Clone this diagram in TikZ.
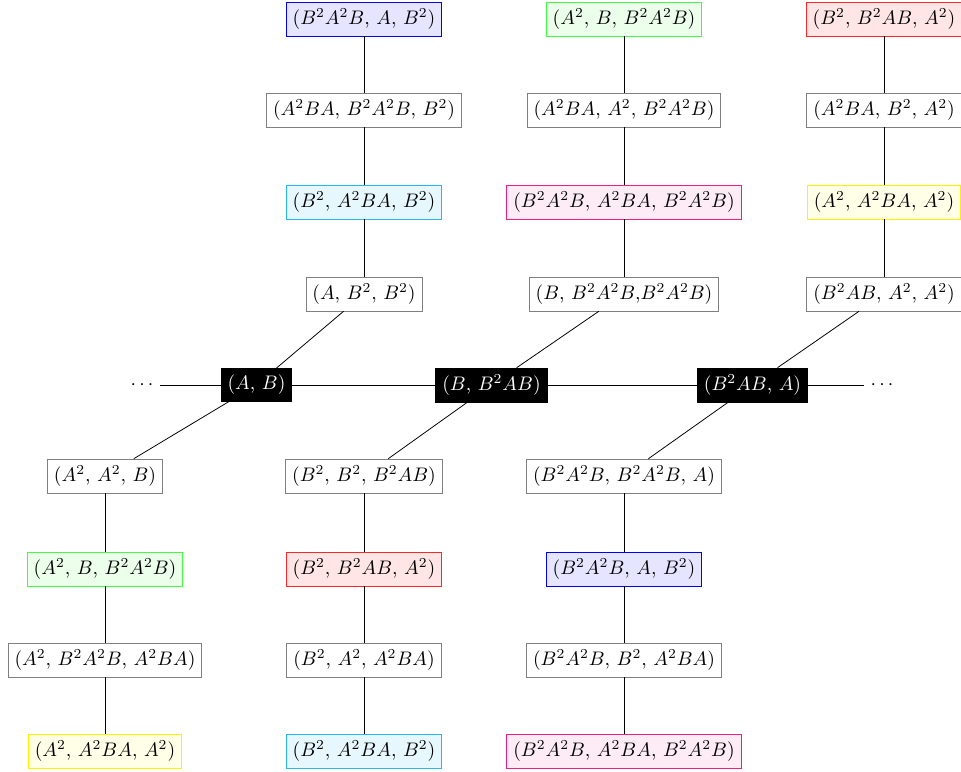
\documentclass[tikz,border=0pt]{standalone}
\begin{document}
\begin{tikzpicture}[x=0.51pt,y=-0.51pt,
  plain/.style={draw=gray,fill=white,inner sep=3.3pt},
  spine/.style={draw=black,fill=black,text=white,inner sep=3.3pt},
  cblue/.style={draw=blue,fill=blue!10,inner sep=3.3pt},
  cgreen/.style={draw=green!75,fill=green!8,inner sep=3.3pt},
  cred/.style={draw=red!85,fill=red!10,inner sep=3.3pt},
  ccyan/.style={draw=cyan!85,fill=cyan!10,inner sep=3.3pt},
  cmag/.style={draw=magenta!75!red!90,fill=magenta!8,inner sep=3.3pt},
  cyel/.style={draw=yellow,fill=yellow!10,inner sep=3.3pt},
  link/.style={draw=black,line width=0.4pt}]
\useasboundingbox (0,0) rectangle (961,772);
% spine
\node[spine] (s1) at (256.5,385) {$(A$, $B)$};
\node[spine] (s2) at (491.5,385) {$(B$, $B^2AB)$};
\node[spine] (s3) at (752.5,385) {$(B^2AB$, $A)$};
\node (dl) at (142,385) {$\cdots$};
\node (dr) at (882,385) {$\cdots$};
% upper column 1
\node[cblue] (u11) at (364,19) {$(B^2A^2B$, $A$, $B^2)$};
\node[plain] (u12) at (364,110) {$(A^2BA$, $B^2A^2B$, $B^2)$};
\node[ccyan] (u13) at (364,202) {$(B^2$, $A^2BA$, $B^2)$};
\node[plain] (u14) at (364,294) {$(A$, $B^2$, $B^2)$};
% upper column 2
\node[cgreen] (u21) at (624,19) {$(A^2$, $B$, $B^2A^2B)$};
\node[plain] (u22) at (624,110) {$(A^2BA$, $A^2$, $B^2A^2B)$};
\node[cmag] (u23) at (624,202) {$(B^2A^2B$, $A^2BA$, $B^2A^2B)$};
\node[plain] (u24) at (624,294) {$(B$, $B^2A^2B$,$B^2A^2B)$};
% upper column 3
\node[cred] (u31) at (884,19) {$(B^2$, $B^2AB$, $A^2)$};
\node[plain] (u32) at (884,110) {$(A^2BA$, $B^2$, $A^2)$};
\node[cyel] (u33) at (884,202) {$(A^2$, $A^2BA$, $A^2)$};
\node[plain] (u34) at (884,294) {$(B^2AB$, $A^2$, $A^2)$};
% lower column 1
\node[plain] (l11) at (105,476) {$(A^2$, $A^2$, $B)$};
\node[cgreen] (l12) at (105,569) {$(A^2$, $B$, $B^2A^2B)$};
\node[plain] (l13) at (105,660) {$(A^2$, $B^2A^2B$, $A^2BA)$};
\node[cyel] (l14) at (105,751) {$(A^2$, $A^2BA$, $A^2)$};
% lower column 2
\node[plain] (l21) at (364,476) {$(B^2$, $B^2$, $B^2AB)$};
\node[cred] (l22) at (364,569) {$(B^2$, $B^2AB$, $A^2)$};
\node[plain] (l23) at (364,660) {$(B^2$, $A^2$, $A^2BA)$};
\node[ccyan] (l24) at (364,751) {$(B^2$, $A^2BA$, $B^2)$};
% lower column 3
\node[plain] (l31) at (624,476) {$(B^2A^2B$, $B^2A^2B$, $A)$};
\node[cblue] (l32) at (624,569) {$(B^2A^2B$, $A$, $B^2)$};
\node[plain] (l33) at (624,660) {$(B^2A^2B$, $B^2$, $A^2BA)$};
\node[cmag] (l34) at (624,751) {$(B^2A^2B$, $A^2BA$, $B^2A^2B)$};
% links
\draw[link] (dl) -- (s1);
\draw[link] (s1) -- (s2);
\draw[link] (s2) -- (s3);
\draw[link] (s3) -- (dr);
\draw[link] (s1) -- (u14);
\draw[link] (s2) -- (u24);
\draw[link] (s3) -- (u34);
\draw[link] (s1) -- (l11);
\draw[link] (s2) -- (l21);
\draw[link] (s3) -- (l31);
\draw[link] (u11) -- (u12); \draw[link] (u12) -- (u13); \draw[link] (u13) -- (u14);
\draw[link] (u21) -- (u22); \draw[link] (u22) -- (u23); \draw[link] (u23) -- (u24);
\draw[link] (u31) -- (u32); \draw[link] (u32) -- (u33); \draw[link] (u33) -- (u34);
\draw[link] (l11) -- (l12); \draw[link] (l12) -- (l13); \draw[link] (l13) -- (l14);
\draw[link] (l21) -- (l22); \draw[link] (l22) -- (l23); \draw[link] (l23) -- (l24);
\draw[link] (l31) -- (l32); \draw[link] (l32) -- (l33); \draw[link] (l33) -- (l34);
\end{tikzpicture}
\end{document}
